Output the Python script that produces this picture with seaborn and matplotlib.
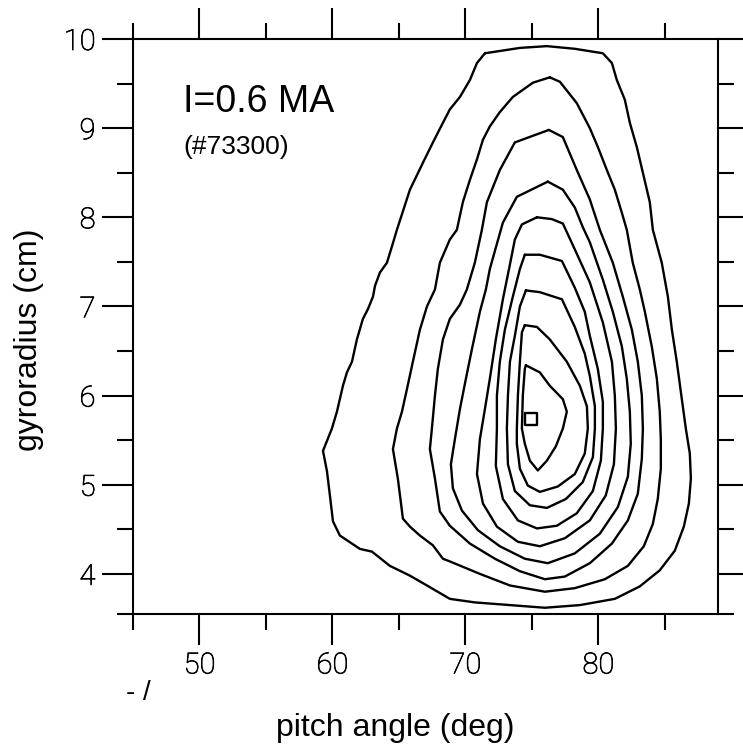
import matplotlib
matplotlib.use("Agg")
import matplotlib.pyplot as plt
import matplotlib.patheffects as pe
import seaborn as sns
import pandas as pd

# Contour lines of the fast-ion loss distribution: pitch angle (deg) vs gyroradius (cm).
# Listed from the outermost level inwards; each line is closed.
c1_pitch = [71.47, 74.10, 76.13, 78.23, 80.34, 81.02, 81.39, 81.99, 82.37, 82.89, 83.35, 83.87,
            84.10, 84.77, 85.23, 85.53, 85.90, 86.28, 86.58, 86.88, 86.96, 86.81, 86.43, 85.75,
            84.62, 83.12, 81.24, 78.61, 75.98, 73.35, 70.71, 68.83, 67.11, 65.83, 64.32, 62.97,
            62.07, 60.56, 60.04, 59.81, 59.59, 59.29, 59.96, 60.34, 60.79, 61.09, 61.47, 61.84,
            62.29, 62.67, 63.05, 63.20, 63.57, 64.10, 64.47, 64.85, 65.83, 66.80, 67.56, 68.31,
            68.83, 69.59, 70.34, 70.87, 71.47]
c1_radius = [9.84, 9.90, 9.92, 9.89, 9.84, 9.73, 9.54, 9.32, 9.06, 8.79, 8.50, 8.17,
             7.86, 7.49, 7.11, 6.74, 6.38, 5.96, 5.63, 5.35, 5.07, 4.79, 4.53, 4.26,
             4.04, 3.86, 3.72, 3.65, 3.62, 3.65, 3.68, 3.72, 3.87, 3.98, 4.09, 4.25,
             4.28, 4.43, 4.59, 4.88, 5.15, 5.38, 5.63, 5.82, 6.11, 6.26, 6.38, 6.63,
             6.86, 6.97, 7.11, 7.23, 7.38, 7.49, 7.67, 7.86, 8.31, 8.61, 8.84, 9.06,
             9.21, 9.35, 9.54, 9.73, 9.84]

c2_pitch = [76.35, 77.11, 78.38, 79.36, 79.96, 80.64, 81.24, 81.77, 82.14, 82.59, 83.12, 83.50,
            84.02, 84.40, 84.62, 84.70, 84.70, 84.47, 84.10, 83.42, 82.22, 80.49, 78.23, 75.98,
            73.35, 71.09, 68.83, 68.31, 67.56, 66.58, 65.83, 65.30, 64.92, 64.55, 64.85, 65.23,
            65.60, 66.05, 66.58, 67.11, 67.71, 68.08, 68.83, 69.36, 69.81, 70.34, 70.87, 71.32,
            71.84, 72.59, 73.57, 75.08, 76.35]
c2_radius = [9.57, 9.52, 9.28, 9.00, 8.79, 8.53, 8.31, 8.05, 7.86, 7.49, 7.19, 6.94,
             6.55, 6.19, 5.82, 5.51, 5.18, 4.84, 4.56, 4.31, 4.09, 3.94, 3.84, 3.80,
             3.87, 4.00, 4.14, 4.17, 4.32, 4.43, 4.53, 4.62, 5.07, 5.40, 5.63, 5.82,
             6.07, 6.38, 6.74, 7.00, 7.19, 7.49, 7.75, 7.86, 8.17, 8.42, 8.65, 8.87,
             9.02, 9.18, 9.35, 9.51, 9.57]

c3_pitch = [76.28, 77.33, 78.38, 79.36, 80.11, 81.09, 81.84, 82.52, 82.97, 83.27, 83.35, 83.27,
            82.97, 82.22, 81.02, 79.36, 77.48, 75.98, 74.10, 72.22, 70.34, 68.83, 68.08, 67.71,
            67.33, 67.48, 67.71, 67.93, 68.31, 68.83, 69.59, 70.11, 70.71, 71.24, 71.62, 72.59,
            73.72, 76.28]
c3_radius = [8.98, 8.90, 8.53, 8.20, 7.86, 7.49, 7.11, 6.74, 6.38, 6.00, 5.63, 5.29,
             4.90, 4.60, 4.34, 4.12, 3.97, 3.94, 4.03, 4.17, 4.34, 4.54, 4.70, 5.07,
             5.40, 5.63, 6.00, 6.30, 6.63, 6.86, 7.02, 7.19, 7.49, 7.86, 8.17, 8.53,
             8.84, 8.98]

c4_pitch = [76.20, 77.33, 78.23, 78.83, 79.36, 80.34, 81.09, 81.77, 82.14, 82.37, 82.44, 82.22,
            81.47, 80.11, 78.23, 76.20, 74.47, 72.59, 70.94, 69.74, 69.06, 68.91, 69.21, 69.59,
            70.04, 70.49, 71.09, 71.54, 71.84, 72.29, 72.82, 73.87, 76.20]
c4_radius = [8.40, 8.31, 8.11, 7.89, 7.72, 7.30, 6.94, 6.55, 6.19, 5.82, 5.46, 5.09,
             4.75, 4.45, 4.23, 4.12, 4.17, 4.31, 4.49, 4.71, 4.96, 5.23, 5.51, 5.85,
             6.19, 6.52, 6.94, 7.19, 7.42, 7.66, 7.94, 8.23, 8.40]

c5_pitch = [75.38, 76.50, 77.33, 78.23, 79.36, 80.34, 81.02, 81.24, 81.32, 81.17, 80.56, 79.36,
            77.48, 75.60, 73.95, 72.37, 71.32, 70.87, 71.09, 71.47, 71.84, 72.29, 72.82, 73.35,
            73.72, 74.25, 75.38]
c5_radius = [8.00, 7.98, 7.93, 7.64, 7.27, 6.82, 6.38, 6.00, 5.63, 5.23, 4.88, 4.60,
             4.40, 4.31, 4.36, 4.53, 4.79, 5.12, 5.51, 5.85, 6.19, 6.63, 7.08, 7.47,
             7.75, 7.92, 8.00]

c6_pitch = [74.47, 75.60, 77.26, 78.23, 78.98, 79.36, 79.96, 80.34, 80.34, 80.19, 79.59, 78.38,
            76.88, 75.38, 73.95, 72.82, 72.29, 72.37, 72.37, 72.59, 72.97, 73.57, 74.10, 74.47]
c6_radius = [7.58, 7.58, 7.51, 7.21, 6.94, 6.67, 6.30, 5.93, 5.63, 5.27, 4.93, 4.68,
             4.54, 4.51, 4.60, 4.84, 5.21, 5.63, 6.00, 6.38, 6.74, 7.11, 7.42, 7.58]

c7_pitch = [74.55, 75.60, 77.26, 78.23, 78.98, 79.36, 79.74, 79.74, 79.59, 78.83, 77.56, 76.13,
            74.85, 73.72, 73.20, 73.12, 73.20, 73.35, 73.72, 74.10, 74.55]
c7_radius = [7.18, 7.16, 7.08, 6.77, 6.47, 6.22, 5.88, 5.63, 5.31, 5.03, 4.84, 4.74,
             4.77, 4.93, 5.23, 5.63, 6.00, 6.38, 6.67, 7.00, 7.18]

c8_pitch = [74.47, 75.38, 76.35, 77.63, 78.61, 79.14, 79.21, 78.98, 78.23, 76.95, 75.60, 74.70,
            74.10, 73.87, 73.87, 73.95, 74.10, 74.25, 74.47]
c8_radius = [6.79, 6.77, 6.63, 6.38, 6.11, 5.88, 5.63, 5.35, 5.12, 4.98, 4.92, 4.99,
             5.18, 5.46, 5.63, 6.00, 6.38, 6.71, 6.79]

c9_pitch = [74.55, 75.60, 76.35, 77.33, 77.63, 77.33, 76.80, 76.13, 75.45, 74.85, 74.47, 74.25,
            74.32, 74.47, 74.55]
c9_radius = [6.34, 6.26, 6.11, 5.96, 5.82, 5.63, 5.43, 5.27, 5.16, 5.27, 5.46, 5.63,
             6.00, 6.30, 6.34]

# small closed box around the peak of the distribution
peak_pitch = [74.45, 75.35, 75.35, 74.45, 74.45]
peak_radius = [5.80, 5.80, 5.67, 5.67, 5.80]

x_major = [50, 60, 70, 80]
x_minor = [45, 55, 65, 75, 85]
y_major = [4, 5, 6, 7, 8, 9, 10]
y_minor = [3.55, 4.5, 5.5, 6.5, 7.5, 8.5, 9.5]

lines = [
    (c1_pitch, c1_radius), (c2_pitch, c2_radius), (c3_pitch, c3_radius),
    (c4_pitch, c4_radius), (c5_pitch, c5_radius), (c6_pitch, c6_radius),
    (c7_pitch, c7_radius), (c8_pitch, c8_radius), (c9_pitch, c9_radius),
    (peak_pitch, peak_radius),
]
frames = []
for level, (p, r) in enumerate(lines):
    frames.append(pd.DataFrame({"pitch": p, "radius": r, "level": level,
                                "step": range(len(p))}))
df = pd.concat(frames, ignore_index=True)

sns.set_style("ticks")
plt.rcParams["font.family"] = ["Liberation Sans", "DejaVu Sans"]
plt.rcParams["text.color"] = "black"
plt.rcParams["axes.labelcolor"] = "black"
plt.rcParams["xtick.color"] = "black"
plt.rcParams["ytick.color"] = "black"

fig = plt.figure(figsize=(7.43, 7.53), dpi=100)
ax = fig.add_axes([133 / 743, 1 - 614 / 753, 585 / 743, 575 / 753])

sns.lineplot(data=df, x="pitch", y="radius", units="level", estimator=None,
             sort=False, color="black", linewidth=1.7, legend=False, ax=ax)

ax.set_xlim(45, 89)
ax.set_ylim(3.55, 10)
ax.set_xticks(x_major)
ax.set_xticks(x_minor, minor=True)
ax.set_yticks(y_major)
ax.set_yticks(y_minor, minor=True)
ax.set_xticklabels([str(v) for v in x_major])
ax.set_yticklabels([str(v) for v in y_major])

for side in ["left", "right", "top", "bottom"]:
    ax.spines[side].set_visible(True)
    ax.spines[side].set_linewidth(1.5)
    ax.spines[side].set_color("black")

ax.tick_params(which="both", direction="out", top=True, right=True,
               labeltop=False, labelright=False, color="black",
               labelcolor="black", width=1.5)
ax.tick_params(which="major", length=22)
ax.tick_params(which="minor", length=11.5)
ax.tick_params(axis="x", which="major", pad=5)
ax.tick_params(axis="y", which="major", pad=5)

# thin-stroked numerals, darkened slightly with a hairline outline
for lbl in ax.get_xticklabels() + ax.get_yticklabels():
    lbl.set_fontfamily(["Roboto", "DejaVu Sans"])
    lbl.set_fontweight("light")
    lbl.set_fontsize(21)
    lbl.set_color("black")
    lbl.set_path_effects([pe.withStroke(linewidth=0.5, foreground="black")])

ax.set_xlabel("pitch angle (deg)", fontsize=23, color="black")
ax.set_ylabel("gyroradius (cm)", fontsize=23, color="black")
ax.xaxis.set_label_coords(0.448, -0.172)
ax.yaxis.set_label_coords(-0.152, 0.477)

ax.text(0.0855, 0.873, "I=0.6 MA", transform=ax.transAxes, fontsize=27,
        ha="left", va="baseline", color="black")
ax.text(0.0855, 0.800, "(#73300)", transform=ax.transAxes, fontsize=19,
        ha="left", va="baseline", color="black")

fig.text(126 / 743, 1 - 700 / 753, "- /", fontsize=20, ha="left",
         va="baseline", color="black")

fig.savefig("out.png", dpi=100)
